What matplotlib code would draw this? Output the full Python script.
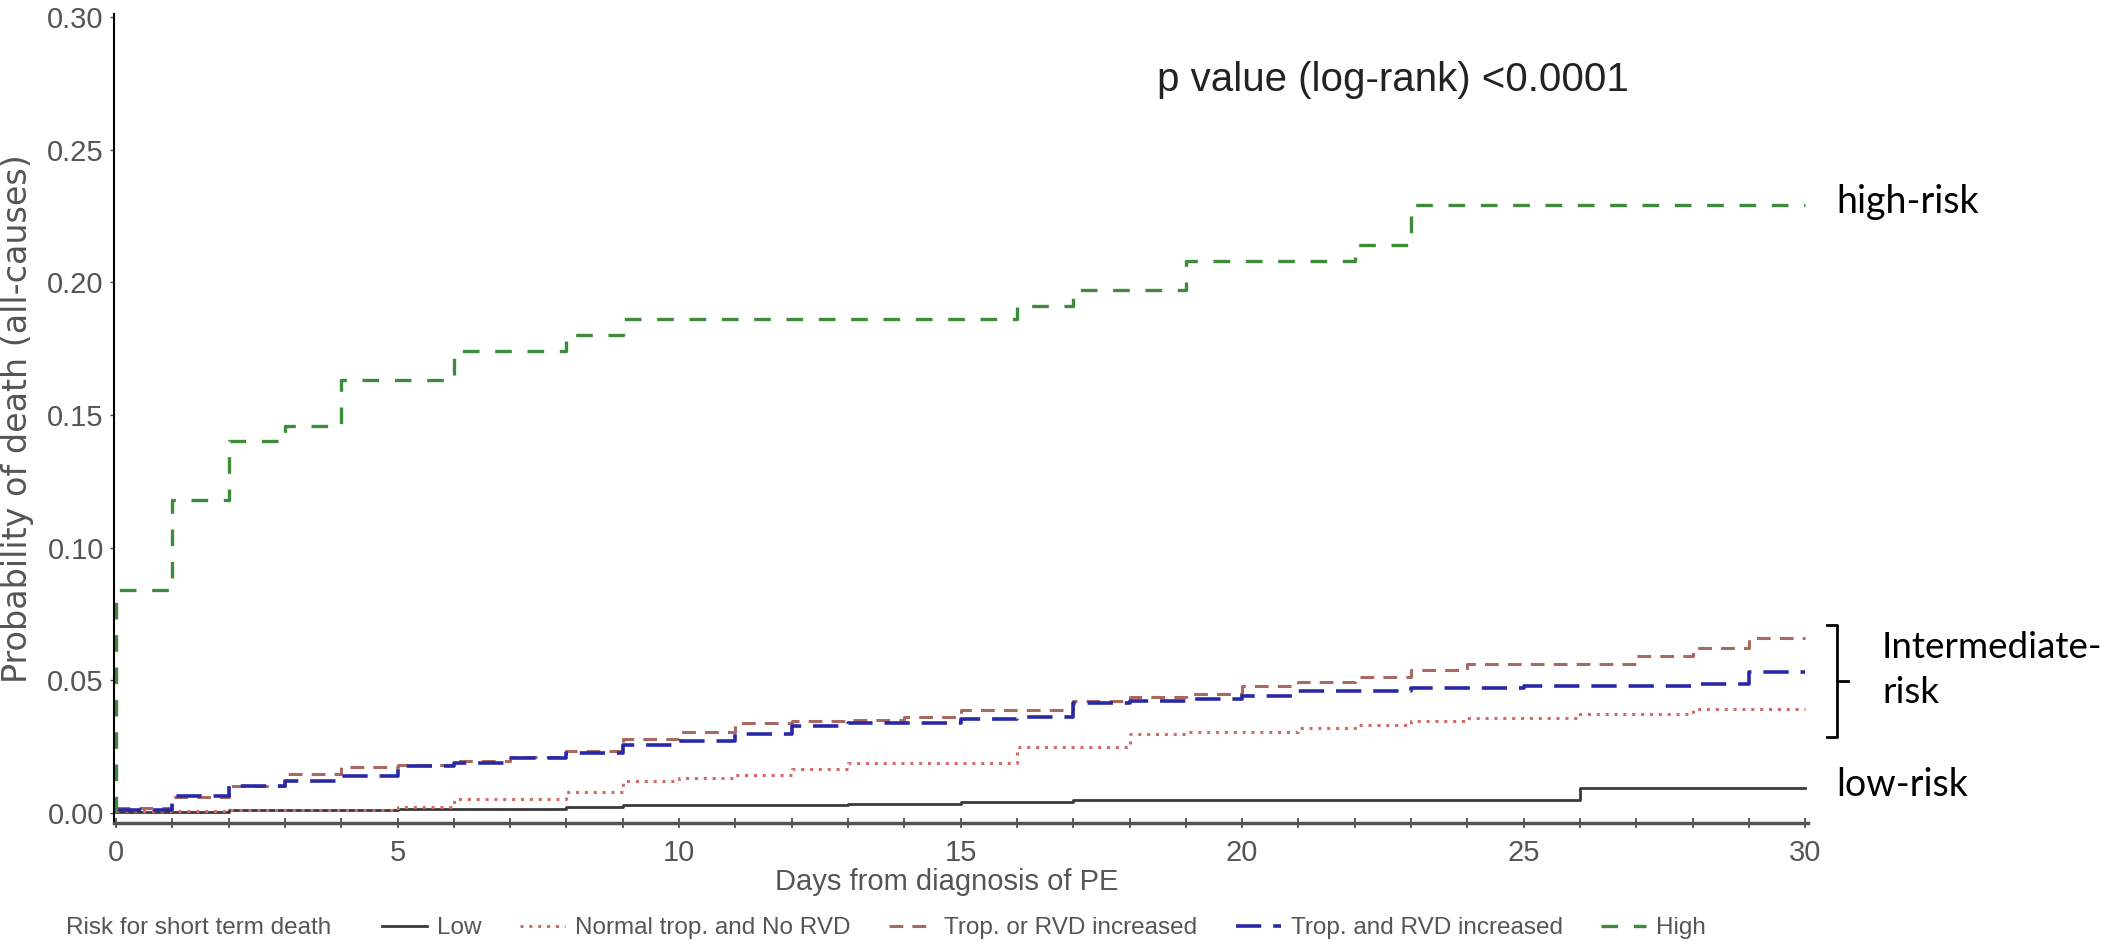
import matplotlib
matplotlib.use('Agg')
import matplotlib.pyplot as plt
from matplotlib.lines import Line2D
from matplotlib.ticker import MultipleLocator

# Curvas de mortalidad acumulada (dias desde el diagnostico de TEP)
low_t = [0, 2, 5, 8, 9, 13, 15, 17, 25, 26, 30]
low_p = [0.0005, 0.001, 0.0014, 0.0023, 0.003, 0.0035, 0.0042, 0.0048, 0.005, 0.0093, 0.0093]

normal_t = [0, 2, 5, 6, 8, 9, 10, 11, 12, 13, 16, 18, 19, 21, 22, 23, 24, 26, 28, 30]
normal_p = [0.0008, 0.0012, 0.0023, 0.0052, 0.0077, 0.012, 0.013, 0.0142, 0.0165, 0.0187,
            0.025, 0.0297, 0.0306, 0.0321, 0.0332, 0.0345, 0.0358, 0.0372, 0.039, 0.039]

trop_or_t = [0, 1, 2, 3, 4, 5, 6, 7, 8, 9, 10, 11, 12, 13, 14, 15, 17, 18, 19, 20, 21, 22,
             23, 24, 27, 28, 29, 30]
trop_or_p = [0.002, 0.006, 0.010, 0.0146, 0.0173, 0.018, 0.0195, 0.021, 0.0235, 0.028, 0.0305,
             0.034, 0.0345, 0.035, 0.036, 0.0387, 0.042, 0.0435, 0.045, 0.0479, 0.0495, 0.0512,
             0.054, 0.0562, 0.0592, 0.062, 0.0658, 0.0658]

trop_and_t = [0, 1, 2, 3, 4, 5, 6, 7, 8, 9, 10, 11, 12, 13, 15, 16, 17, 18, 19, 20, 21, 23,
              25, 28, 29, 30]
trop_and_p = [0.001, 0.0064, 0.0102, 0.0122, 0.0139, 0.0177, 0.019, 0.0208, 0.0225, 0.0255,
              0.027, 0.0297, 0.0328, 0.034, 0.0355, 0.036, 0.0416, 0.042, 0.043, 0.0441, 0.046,
              0.0472, 0.0479, 0.0487, 0.0531, 0.0531]

high_t = [0, 0, 1, 2, 3, 4, 6, 8, 9, 16, 17, 19, 22, 23, 30]
high_p = [0, 0.084, 0.118, 0.140, 0.146, 0.163, 0.174, 0.180, 0.186, 0.191, 0.197, 0.208,
          0.214, 0.229, 0.229]

W, H = 2102, 947
fig = plt.figure(figsize=(W / 100, H / 100), dpi=100)
ax = fig.add_axes([113.5 / W, 1 - 823 / H, 1694.5 / W, 809 / H])

gris = '#555555'
l1, = ax.plot(low_t, low_p, drawstyle='steps-post', color='#3a3a3a', lw=2.0, label='Low')
l2, = ax.plot(normal_t, normal_p, drawstyle='steps-post', color='#d46a6a', lw=2.2,
              dashes=(1, 1.9), label='Normal trop. and No RVD')
l3, = ax.plot(trop_or_t, trop_or_p, drawstyle='steps-post', color='#a86a60', lw=2.2,
              dashes=(4.5, 3), label='Trop. or RVD increased')
l4, = ax.plot(trop_and_t, trop_and_p, drawstyle='steps-post', color='#2828a8', lw=2.6,
              dashes=(7, 3.3), label='Trop. and RVD increased')
l5, = ax.plot(high_t, high_p, drawstyle='steps-post', color='#3c8c3c', lw=2.4,
              dashes=(5, 4.7), label='High')

ax.set_xlim(-0.044, 30.05)
ax.set_ylim(-0.0038, 0.3011)
ax.xaxis.set_major_locator(MultipleLocator(5))
ax.xaxis.set_minor_locator(MultipleLocator(1))
ax.set_yticks([0, 0.05, 0.10, 0.15, 0.20, 0.25, 0.30])
ax.set_yticklabels(['0.00', '0.05', '0.10', '0.15', '0.20', '0.25', '0.30'])

for s in ['top', 'right']:
    ax.spines[s].set_visible(False)
ax.spines['left'].set_color('black')
ax.spines['left'].set_linewidth(1.5)
ax.spines['bottom'].set_color('#555555')
ax.spines['bottom'].set_linewidth(2.5)

ax.tick_params(axis='x', which='both', direction='inout', length=7, width=1.2,
               color='#444444', labelsize=21, labelcolor=gris, pad=8)
ax.tick_params(axis='y', direction='out', length=3, width=1, color='#444444',
               labelsize=21, labelcolor=gris, pad=4)
for lab in ax.get_xticklabels() + ax.get_yticklabels():
    lab.set_family('Liberation Sans')

ax.set_xlabel('Days from diagnosis of PE', fontsize=21, color=gris, family='Liberation Sans')
ax.xaxis.set_label_coords(0.4916, -0.073)
ax.xaxis.label.set_va('center')
ax.set_ylabel('Probability of death (all-causes)', fontsize=24, color=gris, family='DejaVu Sans')
ax.yaxis.set_label_coords(-0.0564, 0.5)
ax.yaxis.label.set_va('center')

# Texto del log-rank
fig.text(1157 / W, 1 - 80 / H, 'p value (log-rank) <0.0001', fontsize=29, color='#222222',
         family='Liberation Sans', ha='left', va='center')

# Etiquetas de grupos a la derecha
fig.text(1836 / W, 1 - 202 / H, 'high-risk', fontsize=27, family='Lato', color='black',
         ha='left', va='center')
fig.text(1882 / W, 1 - 647 / H, 'Intermediate-', fontsize=26.5, family='Lato', color='black',
         ha='left', va='center')
fig.text(1882 / W, 1 - 692 / H, 'risk', fontsize=26.5, family='Lato', color='black',
         ha='left', va='center')
fig.text(1836 / W, 1 - 785 / H, 'low-risk', fontsize=27, family='Lato', color='black',
         ha='left', va='center')

# Llave del grupo intermedio
bx = [1827 / W, 1837 / W, 1837 / W, 1827 / W]
by = [1 - 625 / H, 1 - 625 / H, 1 - 737 / H, 1 - 737 / H]
fig.add_artist(Line2D(bx, by, transform=fig.transFigure, color='black', lw=2))
fig.add_artist(Line2D([1837 / W, 1848 / W], [1 - 681 / H, 1 - 681 / H],
                      transform=fig.transFigure, color='black', lw=2))

# Leyenda inferior
fig.text(66 / W, 1 - 928 / H, 'Risk for short term death', fontsize=17.5, color=gris,
         family='Liberation Sans', ha='left', va='center')
fig.legend(handles=[l1, l2, l3, l4, l5], loc='center left',
           bbox_to_anchor=(382 / W, 1 - 928 / H), ncol=5, frameon=False,
           prop={'family': 'Liberation Sans', 'size': 17.5}, labelcolor=gris,
           handlelength=1.85, handletextpad=0.4, columnspacing=1.6, borderpad=0,
           borderaxespad=0)

fig.savefig('out.png', dpi=100)
